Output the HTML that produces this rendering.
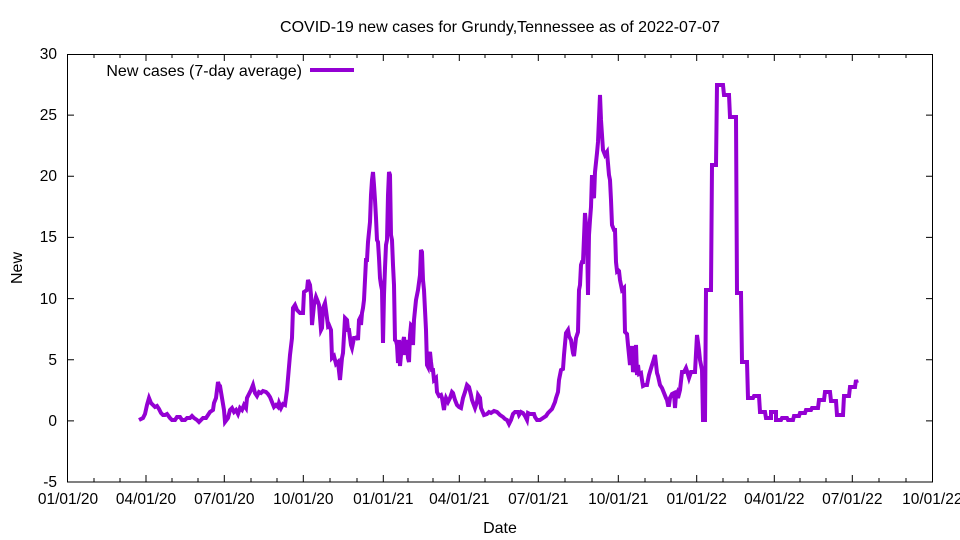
<!DOCTYPE html>
<html><head><meta charset="utf-8"><style>
html,body{margin:0;padding:0;background:#fff;}
svg{display:block;font-family:"Liberation Sans",sans-serif;}
</style></head><body>
<svg width="960" height="540" xmlns="http://www.w3.org/2000/svg">
<rect width="960" height="540" fill="#fff"/>
<text x="500" y="32" font-size="16" text-anchor="middle">COVID-19 new cases for Grundy,Tennessee as of 2022-07-07</text>
<g stroke="#000" stroke-width="1" fill="none">
<rect x="67.5" y="54.5" width="865" height="427.5"/>
<path d="M67 420.9h7M933 420.9h-7M67 359.7h7M933 359.7h-7M67 298.6h7M933 298.6h-7M67 237.4h7M933 237.4h-7M67 176.3h7M933 176.3h-7M67 115.1h7M933 115.1h-7"/>
<path d="M146 482v-7M146 54v7M224.3 482v-7M224.3 54v7M303.3 482v-7M303.3 54v7M383.3 482v-7M383.3 54v7M459.3 482v-7M459.3 54v7M538.3 482v-7M538.3 54v7M618.3 482v-7M618.3 54v7M696.7 482v-7M696.7 54v7M774.3 482v-7M774.3 54v7M852.3 482v-7M852.3 54v7"/>
<path d="M94 482v-4M120 482v-4M172 482v-4M198 482v-4M251 482v-4M277 482v-4M330 482v-4M357 482v-4M408 482v-4M433 482v-4M485 482v-4M512 482v-4M565 482v-4M592 482v-4M645 482v-4M671 482v-4M723 482v-4M748 482v-4M800 482v-4M826 482v-4M879 482v-4M906 482v-4
M94 54v4M120 54v4M172 54v4M198 54v4M251 54v4M277 54v4M330 54v4M357 54v4M408 54v4M433 54v4M485 54v4M512 54v4M565 54v4M592 54v4M645 54v4M671 54v4M723 54v4M748 54v4M800 54v4M826 54v4M879 54v4M906 54v4"/>
</g>
<g font-size="15.5" text-anchor="end">
<text x="57" y="487">-5</text><text x="57" y="426">0</text><text x="57" y="365">5</text><text x="57" y="304">10</text><text x="57" y="242">15</text><text x="57" y="181">20</text><text x="57" y="120">25</text><text x="57" y="59">30</text>
</g>
<g font-size="15.5" text-anchor="middle">
<text x="68" y="504">01/01/20</text><text x="146" y="504">04/01/20</text><text x="224.3" y="504">07/01/20</text><text x="303.3" y="504">10/01/20</text><text x="383.3" y="504">01/01/21</text><text x="459.3" y="504">04/01/21</text><text x="538.3" y="504">07/01/21</text><text x="618.3" y="504">10/01/21</text><text x="696.7" y="504">01/01/22</text><text x="774.3" y="504">04/01/22</text><text x="852.3" y="504">07/01/22</text><text x="932.3" y="504">10/01/22</text>
</g>
<g font-size="16" text-anchor="middle">
<text x="500" y="533">Date</text>
<text transform="translate(22,268) rotate(-90)">New</text>
</g>
<text x="302" y="76" font-size="16" text-anchor="end">New cases (7-day average)</text>
<path d="M310 70H354" stroke="#9400d3" stroke-width="4"/>
<polyline fill="none" stroke="#9400d3" stroke-width="4" stroke-linejoin="miter" points="139,420 143,418 145,414 147,405 149,398 151,403 153,405 155,407 157,406 159,409 161,413 163,415 165,415 167,414 170,418 172,420 175,420 177,417 180,417 182,420 185,420 187,418 190,418 192,416 194,418 197,420 199,422 201,420 203,418 206,418 208,415 210,412 213,410 214,403 216,398 218,382 219,385 220,386 222,398 224,410 225,422 228,418 230,410 232,408 234,412 236,410 238,414 240,408 242,410 244,405 246,408 247,398 249,394 251,390 253,385 255,393 257,396 259,392 261,393 263,391 266,392 268,394 270,397 272,402 274,407 276,405 278,407 279,403 281,408 283,404 285,405 287,390 290,355 292,338 293,308 295,305 297,310 300,313 303,313 304,292 307,290 308,280 310,285 311,295 312,325 314,305 316,297 318,302 319,305 321,330 322,328 323,308 325,303 327,318 328,326 329,325 331,330 332,358 334,356 336,364 338,362 340,380 342,358 343,353 345,318 347,320 348,330 349,330 351,345 352,348 354,338 355,338 357,337 358,340 359,320 360,318 361,325 362,313 363,308 364,300 365,280 366,260 367,260 368,242 369,232 370,222 371,195 372,180 373,172 374,185 375,200 376,218 377,240 378,242 379,258 380,278 381,285 382,290 383,343 384,295 385,268 386,245 387,240 388,195 389,172 390,175 391,235 392,240 393,265 394,285 395,340 396,341 397,345 398,363 399,340 400,366 401,355 402,350 403,342 404,337 405,355 406,340 407,345 408,358 409,362 410,335 411,325 412,326 413,345 414,320 415,310 416,300 418,290 420,275 421,250 422,252 423,280 424,290 425,310 426,330 427,365 428,367 429,355 430,352 431,362 432,370 433,370 434,380 436,378 437,392 439,396 441,395 442,398 444,410 445,402 446,398 448,402 450,398 452,392 453,393 455,400 457,405 459,407 461,408 463,398 465,392 467,385 469,387 471,395 472,400 475,408 477,402 478,395 480,398 481,408 484,415 487,414 489,412 491,413 494,411 497,412 500,415 503,417 505,419 507,420 509,424 511,420 513,414 515,412 518,412 519,415 521,412 523,413 525,416 527,420 528,413 530,414 532,414 534,414 535,417 537,420 540,420 543,418 546,416 548,413 550,411 552,409 555,402 556,398 558,392 559,380 561,370 563,369 564,355 566,333 568,330 569,336 571,340 573,353 574,356 576,338 578,332 579,290 580,285 581,265 582,262 583,262 585,213 587,236 588,295 589,235 590,220 591,207 592,175 593,196 594,198 595,172 597,153 598,142 600,95 601,120 603,150 605,155 607,152 609,175 610,180 611,200 612,225 614,230 615,230 616,262 617,271 618,270 619,271 620,280 622,290 624,288 625,332 627,334 628,345 630,365 631,355 632,346 633,372 634,368 636,345 637,375 638,365 639,374 641,373 642,380 643,386 645,385 647,385 649,375 652,365 653,362 655,355 657,373 658,376 660,385 662,388 664,393 666,398 667,400 668,405 669,405 670,398 671,396 672,394 674,393 675,408 676,395 677,393 678,398 680,390 682,372 684,372 686,368 687,371 689,378 691,372 692,372 695,372 697,335 699,350 700,360 702,370 703,420 705,420 706,290 709,290 711,290 712,165 713,165 716,165 717,85 723,85 724,95 729,95 730,117 736,117 737,293 741,293 742,362 747,362 748,398 753,398 754,396 759,396 760,412 765,412 766,418 771,418 771,412 776,412 776,420 781,420 782,418 787,418 788,420 793,420 794,416 799,416 800,413 805,413 806,410 811,410 812,408 818,408 819,400 824,400 825,392 830,392 831,401 836,401 837,415 843,415 844,396 849,396 850,387 855,387 856,380 857,383"/>
</svg>
</body></html>
